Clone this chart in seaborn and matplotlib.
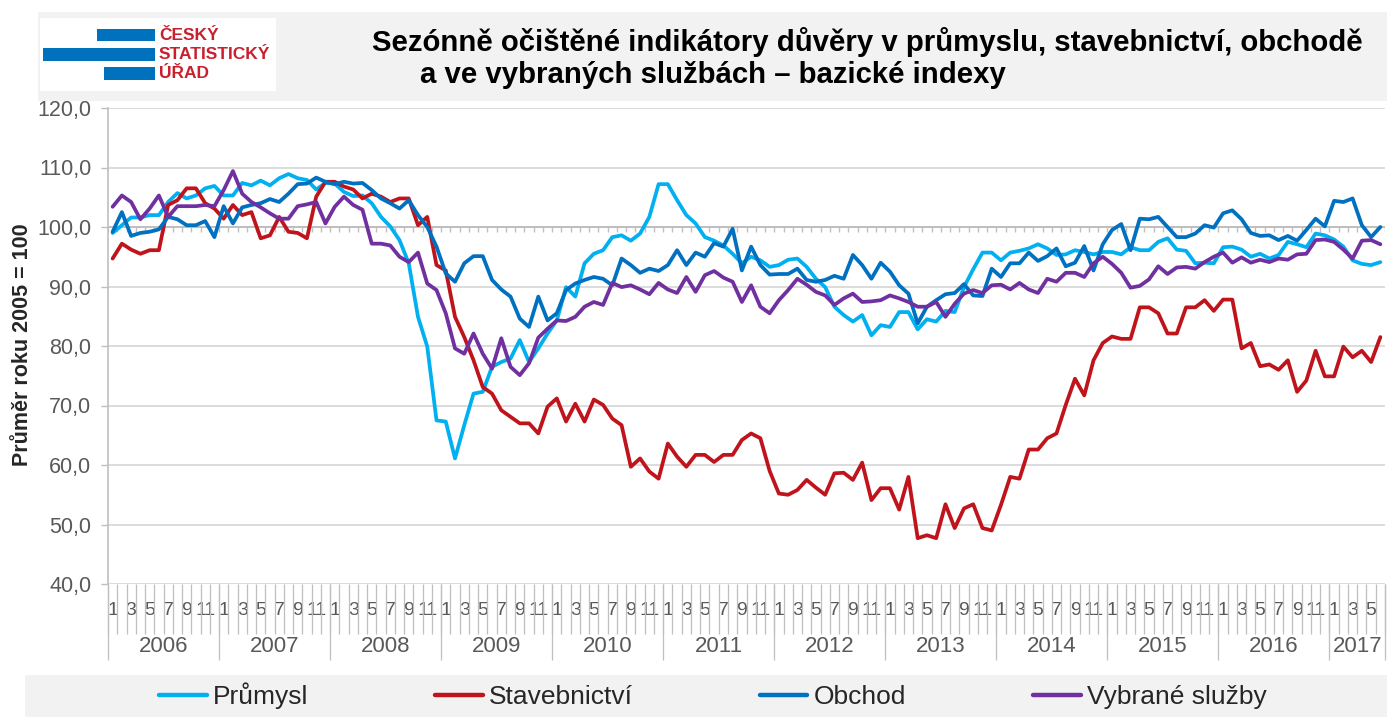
import numpy as np
import pandas as pd
import matplotlib
matplotlib.use("Agg")
import matplotlib.pyplot as plt
import seaborn as sns
from matplotlib.patches import Rectangle
from matplotlib.lines import Line2D

# ---------------- data (monthly, Jan 2006 .. Jun 2017) ----------------
years = list(range(2006, 2018))
month_labels_shown = [1, 3, 5, 7, 9, 11]

prumysl = [
    99.0, 100.3, 101.6, 101.6, 102.0, 102.0, 104.2, 105.7, 104.8, 105.3, 106.5, 106.9,   # 2006
    105.3, 105.3, 107.4, 107.0, 107.8, 107.0, 108.2, 108.9, 108.2, 107.9, 106.3, 107.4,  # 2007
    107.3, 105.9, 105.2, 105.3, 104.0, 101.7, 100.1, 97.8, 93.9, 84.9, 79.9, 67.5,      # 2008
    67.3, 61.1, 66.7, 72.0, 72.3, 76.5, 77.3, 77.9, 81.0, 77.3, 79.6, 82.1,             # 2009
    84.3, 89.9, 88.3, 93.9, 95.5, 96.1, 98.3, 98.6, 97.7, 98.9, 101.7, 107.2,           # 2010
    107.2, 104.5, 102.0, 100.6, 98.3, 97.7, 96.9, 95.5, 93.9, 95.0, 94.4, 93.3,         # 2011
    93.6, 94.5, 94.7, 93.3, 91.3, 89.9, 86.6, 85.2, 84.1, 85.2, 81.8, 83.5,             # 2012
    83.2, 85.7, 85.7, 82.8, 84.5, 84.1, 85.9, 85.7, 89.9, 92.9, 95.7, 95.7,             # 2013
    94.4, 95.7, 96.0, 96.4, 97.1, 96.4, 95.3, 95.4, 96.1, 95.8, 95.4, 95.8,             # 2014
    95.8, 95.4, 96.6, 96.1, 96.1, 97.5, 98.1, 96.2, 96.0, 93.9, 94.0, 93.9,             # 2015
    96.6, 96.7, 96.2, 95.0, 95.5, 94.7, 95.3, 97.5, 97.1, 96.6, 98.9, 98.6,             # 2016
    97.9, 96.7, 94.4, 93.8, 93.6, 94.1,                                                 # 2017
]
stavebnictvi = [
    94.7, 97.2, 96.2, 95.5, 96.1, 96.1, 103.7, 104.5, 106.5, 106.5, 104.0, 103.1,
    101.4, 103.7, 102.0, 102.5, 98.1, 98.6, 101.7, 99.2, 99.0, 98.1, 105.1, 107.6,
    107.6, 106.8, 106.3, 104.8, 105.6, 105.1, 104.2, 104.8, 104.8, 100.3, 101.7, 93.6,
    92.7, 84.9, 81.5, 77.6, 73.1, 72.0, 69.2, 68.1, 67.0, 67.0, 65.3, 69.8,
    71.2, 67.3, 70.3, 67.3, 71.0, 70.1, 67.8, 66.7, 59.7, 61.1, 58.9, 57.7,
    63.6, 61.4, 59.7, 61.7, 61.7, 60.5, 61.7, 61.7, 64.2, 65.3, 64.5, 59.0,
    55.2, 55.0, 55.8, 57.5, 56.2, 55.0, 58.6, 58.7, 57.5, 60.4, 54.1, 56.1,
    56.1, 52.5, 58.0, 47.7, 48.2, 47.7, 53.4, 49.4, 52.7, 53.4, 49.4, 49.0,
    53.3, 58.0, 57.7, 62.6, 62.6, 64.5, 65.3, 70.1, 74.5, 71.7, 77.6, 80.5,
    81.6, 81.2, 81.2, 86.5, 86.5, 85.5, 82.1, 82.1, 86.5, 86.5, 87.7, 85.9,
    87.8, 87.8, 79.6, 80.5, 76.6, 76.9, 76.0, 77.6, 72.3, 74.2, 79.2, 74.9,
    74.9, 79.9, 78.1, 79.2, 77.3, 81.5,
]
obchod = [
    99.2, 102.5, 98.5, 99.0, 99.2, 99.6, 101.7, 101.3, 100.3, 100.3, 101.0, 98.3,
    103.5, 100.6, 103.3, 103.7, 104.0, 104.7, 104.2, 105.6, 107.2, 107.3, 108.3, 107.6,
    107.2, 107.6, 107.3, 107.4, 106.2, 104.8, 104.0, 103.1, 104.5, 102.0, 100.0, 96.7,
    92.2, 90.8, 93.9, 95.1, 95.1, 91.1, 89.5, 88.3, 84.6, 83.2, 88.3, 84.3,
    85.5, 89.4, 90.5, 91.1, 91.6, 91.3, 90.2, 94.7, 93.6, 92.3, 93.0, 92.6,
    93.6, 96.1, 93.6, 95.7, 95.0, 97.3, 96.7, 99.7, 92.7, 96.7, 93.6, 92.0,
    92.1, 92.1, 93.0, 91.1, 90.8, 91.1, 91.8, 91.3, 95.3, 93.6, 91.3, 94.0,
    92.5, 90.2, 88.8, 83.8, 86.6, 87.7, 88.7, 88.9, 90.4, 88.5, 88.4, 93.0,
    91.6, 93.9, 93.9, 95.7, 94.3, 95.1, 96.4, 93.4, 94.0, 96.8, 92.7, 97.1,
    99.5, 100.5, 96.1, 101.4, 101.3, 101.7, 100.0, 98.3, 98.3, 98.9, 100.3, 99.9,
    102.3, 102.8, 101.3, 99.0, 98.5, 98.6, 97.8, 98.5, 97.7, 99.5, 101.4, 100.1,
    104.4, 104.2, 104.8, 100.3, 98.3, 100.0,
]
sluzby = [
    103.4, 105.3, 104.2, 101.3, 103.1, 105.3, 101.7, 103.5, 103.5, 103.5, 103.7, 103.5,
    106.2, 109.4, 105.6, 104.2, 103.3, 102.3, 101.4, 101.4, 103.5, 103.8, 104.2, 100.6,
    103.4, 105.1, 103.7, 102.9, 97.2, 97.2, 96.9, 95.0, 94.1, 95.7, 90.5, 89.4,
    85.5, 79.6, 78.7, 82.1, 78.7, 76.2, 81.3, 76.5, 75.1, 77.1, 81.4, 82.9,
    84.3, 84.2, 84.9, 86.6, 87.4, 86.9, 90.6, 89.9, 90.2, 89.5, 88.7, 90.6,
    89.5, 88.9, 91.6, 89.1, 91.9, 92.6, 91.5, 90.8, 87.4, 90.2, 86.6, 85.5,
    87.7, 89.4, 91.3, 90.3, 89.1, 88.5, 86.9, 88.0, 88.8, 87.4, 87.5, 87.7,
    88.5, 88.0, 87.4, 86.6, 86.6, 87.4, 84.9, 87.1, 88.8, 89.4, 88.9, 90.2,
    90.3, 89.5, 90.6, 89.5, 88.9, 91.3, 90.8, 92.3, 92.3, 91.6, 93.9, 95.0,
    93.8, 92.3, 89.8, 90.1, 91.2, 93.4, 92.1, 93.2, 93.3, 93.0, 94.1, 95.0,
    95.7, 94.0, 94.9, 94.0, 94.5, 94.1, 94.7, 94.5, 95.4, 95.5, 97.8, 97.9,
    97.5, 96.2, 94.7, 97.7, 97.8, 97.1,
]

series_names = ["Průmysl", "Stavebnictví", "Obchod", "Vybrané služby"]
series_values = [prumysl, stavebnictvi, obchod, sluzby]
colors = ["#00B0F0", "#C0141C", "#0070C0", "#7030A0"]

title_line1 = "Sezónně očištěné indikátory důvěry v průmyslu, stavebnictví, obchodě"
title_line2 = "a ve vybraných službách – bazické indexy"
y_label = "Průměr roku 2005 = 100"
y_ticks = [40, 50, 60, 70, 80, 90, 100, 110, 120]
axis_cross = 100

n = len(prumysl)
idx = np.arange(n)
month_no = idx % 12 + 1
year_no = 2006 + idx // 12

df = pd.concat([
    pd.DataFrame({"idx": idx, "value": vals, "series": name})
    for name, vals in zip(series_names, series_values)
], ignore_index=True)

# ---------------- style ----------------
sns.set_theme(style="white")
plt.rcParams['font.family'] = ['Liberation Sans', 'DejaVu Sans']
GREY_TXT = "#595959"
GRID = "#D9D9D9"
AXC = "#BFBFBF"

W, H = 1387, 717
fig = plt.figure(figsize=(W / 100, H / 100), dpi=100)
fig.patch.set_facecolor("white")

def fx(px):
    return px / W

def fy(py):
    return 1 - py / H

# header band + logo box
fig.add_artist(Rectangle((fx(38), fy(101)), fx(1387 - 38), (101 - 12) / H,
                         transform=fig.transFigure, facecolor="#F2F2F2", edgecolor="none", zorder=0))
fig.add_artist(Rectangle((fx(40), fy(91)), fx(276 - 40), (91 - 18) / H,
                         transform=fig.transFigure, facecolor="white", edgecolor="none", zorder=1))
logo_blue = "#0071BC"
logo_red = "#C8202F"
for (x0, x1, y0, y1) in [(97, 155, 29, 41), (43, 155, 48, 61), (104, 155, 67, 80)]:
    fig.add_artist(Rectangle((fx(x0), fy(y1)), fx(x1 - x0), (y1 - y0) / H,
                             transform=fig.transFigure, facecolor=logo_blue, edgecolor="none", zorder=2))
for txt, yy in [("ČESKÝ", 35), ("STATISTICKÝ", 54.5), ("ÚŘAD", 74)]:
    fig.text(fx(159), fy(yy), txt, ha="left", va="center", color=logo_red,
             fontsize=12.5, fontweight="bold", zorder=3)

# legend band
fig.add_artist(Rectangle((fx(25), 0), fx(1387 - 25), (717 - 675) / H,
                         transform=fig.transFigure, facecolor="#F2F2F2", edgecolor="none", zorder=0))

# title
fig.text(fx(372), fy(42), title_line1, ha="left", va="center", fontsize=21.2, fontweight="bold", color="black")
fig.text(fx(420), fy(75), title_line2, ha="left", va="center", fontsize=21.2, fontweight="bold", color="black")

# ---------------- axes ----------------
ax = fig.add_axes([fx(108), fy(584), fx(1385 - 108), (584 - 108) / H])
ax.set_facecolor("none")

sns.lineplot(data=df, x="idx", y="value", hue="series", hue_order=series_names,
             palette=colors, linewidth=2.7, ax=ax, legend=False, sort=False)
for ln in ax.lines:
    ln.set_solid_joinstyle("round")
    ln.set_solid_capstyle("round")
    ln.set_zorder(5)

ax.set_xlim(-0.5, n - 0.5)
ax.set_ylim(y_ticks[0], y_ticks[-1])
ax.set_xlabel("")
ax.set_ylabel("")

# y axis
ax.set_yticks(y_ticks)
ax.set_yticklabels([f"{v:.1f}".replace(".", ",") for v in y_ticks])
ax.tick_params(axis="y", length=5, color=AXC, width=1, labelsize=15.5, labelcolor=GREY_TXT, pad=7, left=True)
ax.grid(axis="y", color=GRID, linewidth=1.3)
ax.grid(axis="x", visible=False)
for s in ["top", "right", "bottom"]:
    ax.spines[s].set_visible(False)
ax.spines["left"].set_color(AXC)
ax.spines["left"].set_linewidth(1.2)

# horizontal category axis crossing at 100
ax.axhline(axis_cross, color=AXC, linewidth=1.4, zorder=2)
bounds = np.arange(-0.5, n, 1.0)
tick_units = 5 / ((584 - 108) / (y_ticks[-1] - y_ticks[0]))
ax.vlines(bounds, axis_cross - tick_units, axis_cross, color=AXC, linewidth=1.0, zorder=2)

# x axis: months (first level)
ax.set_xticks(idx)
ax.set_xticklabels([str(m) if m in month_labels_shown else "" for m in month_no])
ax.tick_params(axis="x", length=0, pad=13, labelsize=14, labelcolor=GREY_TXT, bottom=False)
ax.set_xticks(bounds, minor=True)
ax.tick_params(axis="x", which="minor", length=36, width=0.9, color=AXC, bottom=True, direction="out")

# second level: years
plot_h = 584 - 108
year_bounds = [-0.5] + [i - 0.5 for i in range(12, n, 12)] + [n - 0.5]
ax.vlines(year_bounds, -(660 - 584) / plot_h, 0, transform=ax.get_xaxis_transform(),
          color=AXC, linewidth=0.9, clip_on=False)
for y in years:
    sel = idx[year_no == y]
    ax.text(sel.mean(), -(647 - 584) / plot_h, str(y), transform=ax.get_xaxis_transform(),
            ha="center", va="center", fontsize=16, color=GREY_TXT)

# y label
fig.text(fx(23), fy(345), y_label, rotation=90, ha="center", va="center",
         fontsize=15.5, fontweight="bold", color="#262626")

# legend
handles = [Line2D([0], [0], color=c, linewidth=3.2) for c in colors]
fig.legend(handles, series_names, loc="center", bbox_to_anchor=(fx(713), fy(696)), ncol=4,
           frameon=False, fontsize=19, handlelength=1.8, handletextpad=0.25, columnspacing=4.8)

fig.savefig("out.png", dpi=100)
